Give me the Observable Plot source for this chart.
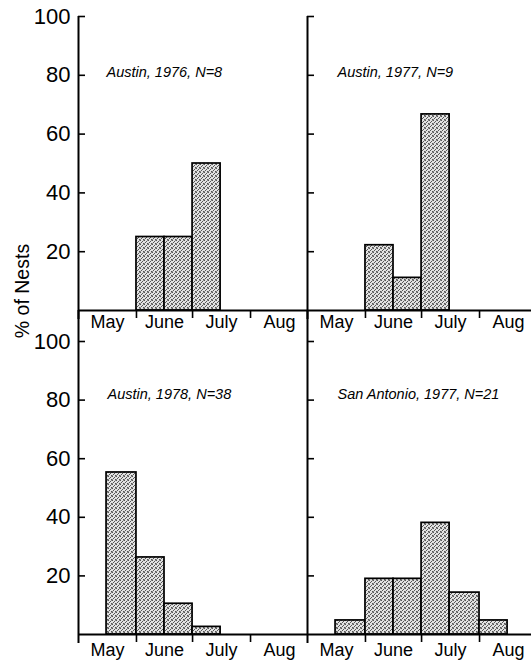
<!DOCTYPE html>
<html><head><meta charset="utf-8">
<script src="https://cdn.jsdelivr.net/npm/d3@7"></script>
<script src="https://cdn.jsdelivr.net/npm/@observablehq/plot@0.6"></script>
<style>
html,body{margin:0;padding:0;background:#fff;overflow:hidden;}
#wrap{position:relative;width:531px;height:663px;overflow:hidden;font-family:"Liberation Sans",Arial,sans-serif;color:#000;}
.panel{position:absolute;}
#ylab{position:absolute;left:22px;top:291px;transform:translate(-50%,-50%) rotate(-90deg);font-size:19.5px;white-space:nowrap;}
</style></head><body>
<svg width="0" height="0" style="position:absolute">
<defs><pattern id="stipple" width="4" height="4" patternUnits="userSpaceOnUse">
<rect width="4" height="4" fill="#e2e2e2"/>
<rect x="0" y="0" width="1" height="1" fill="#555"/>
<rect x="2" y="1" width="1" height="1" fill="#555"/>
<rect x="3" y="3" width="1" height="1" fill="#555"/>
<rect x="1" y="2" width="1" height="1" fill="#555"/>
<rect x="3" y="0" width="1" height="1" fill="#888"/>
<rect x="0" y="3" width="1" height="1" fill="#888"/>
</pattern></defs></svg>
<div id="wrap"><div id="ylab">% of Nests</div></div>
<script>
const months = ["May", "June", "July", "Aug"];
const monthStarts = ["2000-05-01", "2000-06-01", "2000-07-01", "2000-08-01", "2000-09-01"];
const halfMonthStarts = ["2000-05-01", "2000-05-16", "2000-06-01", "2000-06-16", "2000-07-01", "2000-07-16", "2000-08-01", "2000-08-16"];
const halfMonthEnds = ["2000-05-16", "2000-06-01", "2000-06-16", "2000-07-01", "2000-07-16", "2000-08-01", "2000-08-16", "2000-09-01"];
const yTicks = [20, 40, 60, 80, 100];
const titles = ["Austin, 1976, N=8", "Austin, 1977, N=9", "Austin, 1978, N=38", "San Antonio, 1977, N=21"];
const austin1976 = [0, 0, 25, 25, 50, 0, 0, 0];
const austin1977 = [0, 0, 22.2, 11.1, 66.7, 0, 0, 0];
const austin1978 = [0, 55.3, 26.3, 10.5, 2.6, 0, 0, 0];
const sanAntonio1977 = [0, 4.8, 19.0, 19.0, 38.1, 14.3, 4.8, 0];

const D = s => new Date(s);
const monthMids = months.map((m, i) => new Date((+D(monthStarts[i]) + +D(monthStarts[i + 1])) / 2));
const wrap = document.getElementById("wrap");

function panel({values, title, left, top, width, height, marginLeft, marginTop, marginBottom, showY, extTop, labelPad, titleDx, titleDy}) {
  const data = values.map((v, i) => ({start: D(halfMonthStarts[i]), end: D(halfMonthEnds[i]), v})).filter(d => d.v > 0);
  const p = Plot.plot({
    width, height, marginLeft, marginTop, marginBottom, marginRight: 0,
    style: {background: "transparent", overflow: "visible", fontFamily: "Liberation Sans, Arial, sans-serif", color: "#000"},
    x: {type: "utc", domain: [D(monthStarts[0]), D(monthStarts[4])], label: null},
    y: {domain: [0, 100], label: null},
    marks: [
      Plot.rectY(data, {x1: "start", x2: "end", y1: 0, y2: "v", fill: "url(#stipple)", stroke: "#000", strokeWidth: 1.7}),
      Plot.ruleY([0], {stroke: "#000", strokeWidth: 2}),
      Plot.ruleX([D(monthStarts[0])], {stroke: "#000", strokeWidth: 2, insetTop: -extTop, insetBottom: -9}),
      Plot.axisY(yTicks, {tickSize: -7, tickPadding: 15, strokeWidth: 1.6, fontSize: 22, tickFormat: showY ? d => String(d) : () => ""}),
      Plot.axisX(monthStarts.slice(1, 4).map(D), {tickSize: 8, strokeWidth: 1.6, tickFormat: () => ""}),
      Plot.axisX(monthMids, {tickSize: 0, tickPadding: labelPad, fontSize: 18, tickFormat: (d, i) => months[i]}),
      Plot.text([title], {frameAnchor: "top-left", dx: titleDx, dy: titleDy, lineAnchor: "bottom", textAnchor: "start", fontStyle: "italic", fontSize: 14.5})
    ]
  });
  p.classList.add("panel");
  p.style.left = left + "px";
  p.style.top = top + "px";
  wrap.appendChild(p);
}

panel({values: austin1976, title: titles[0], left: 0, top: 0, width: 308, height: 335, marginLeft: 78, marginTop: 16, marginBottom: 25, showY: true, extTop: 0, labelPad: 5, titleDx: 28, titleDy: 60});
panel({values: austin1977, title: titles[1], left: 297, top: 0, width: 240, height: 335, marginLeft: 10, marginTop: 16, marginBottom: 25, showY: false, extTop: 0, labelPad: 5, titleDx: 30, titleDy: 60});
panel({values: austin1978, title: titles[2], left: 0, top: 300, width: 308, height: 363, marginLeft: 78, marginTop: 41, marginBottom: 29, showY: true, extTop: 31, labelPad: 9, titleDx: 29, titleDy: 57});
panel({values: sanAntonio1977, title: titles[3], left: 297, top: 300, width: 240, height: 363, marginLeft: 10, marginTop: 41, marginBottom: 29, showY: false, extTop: 31, labelPad: 9, titleDx: 30, titleDy: 57});
</script>
</body></html>
